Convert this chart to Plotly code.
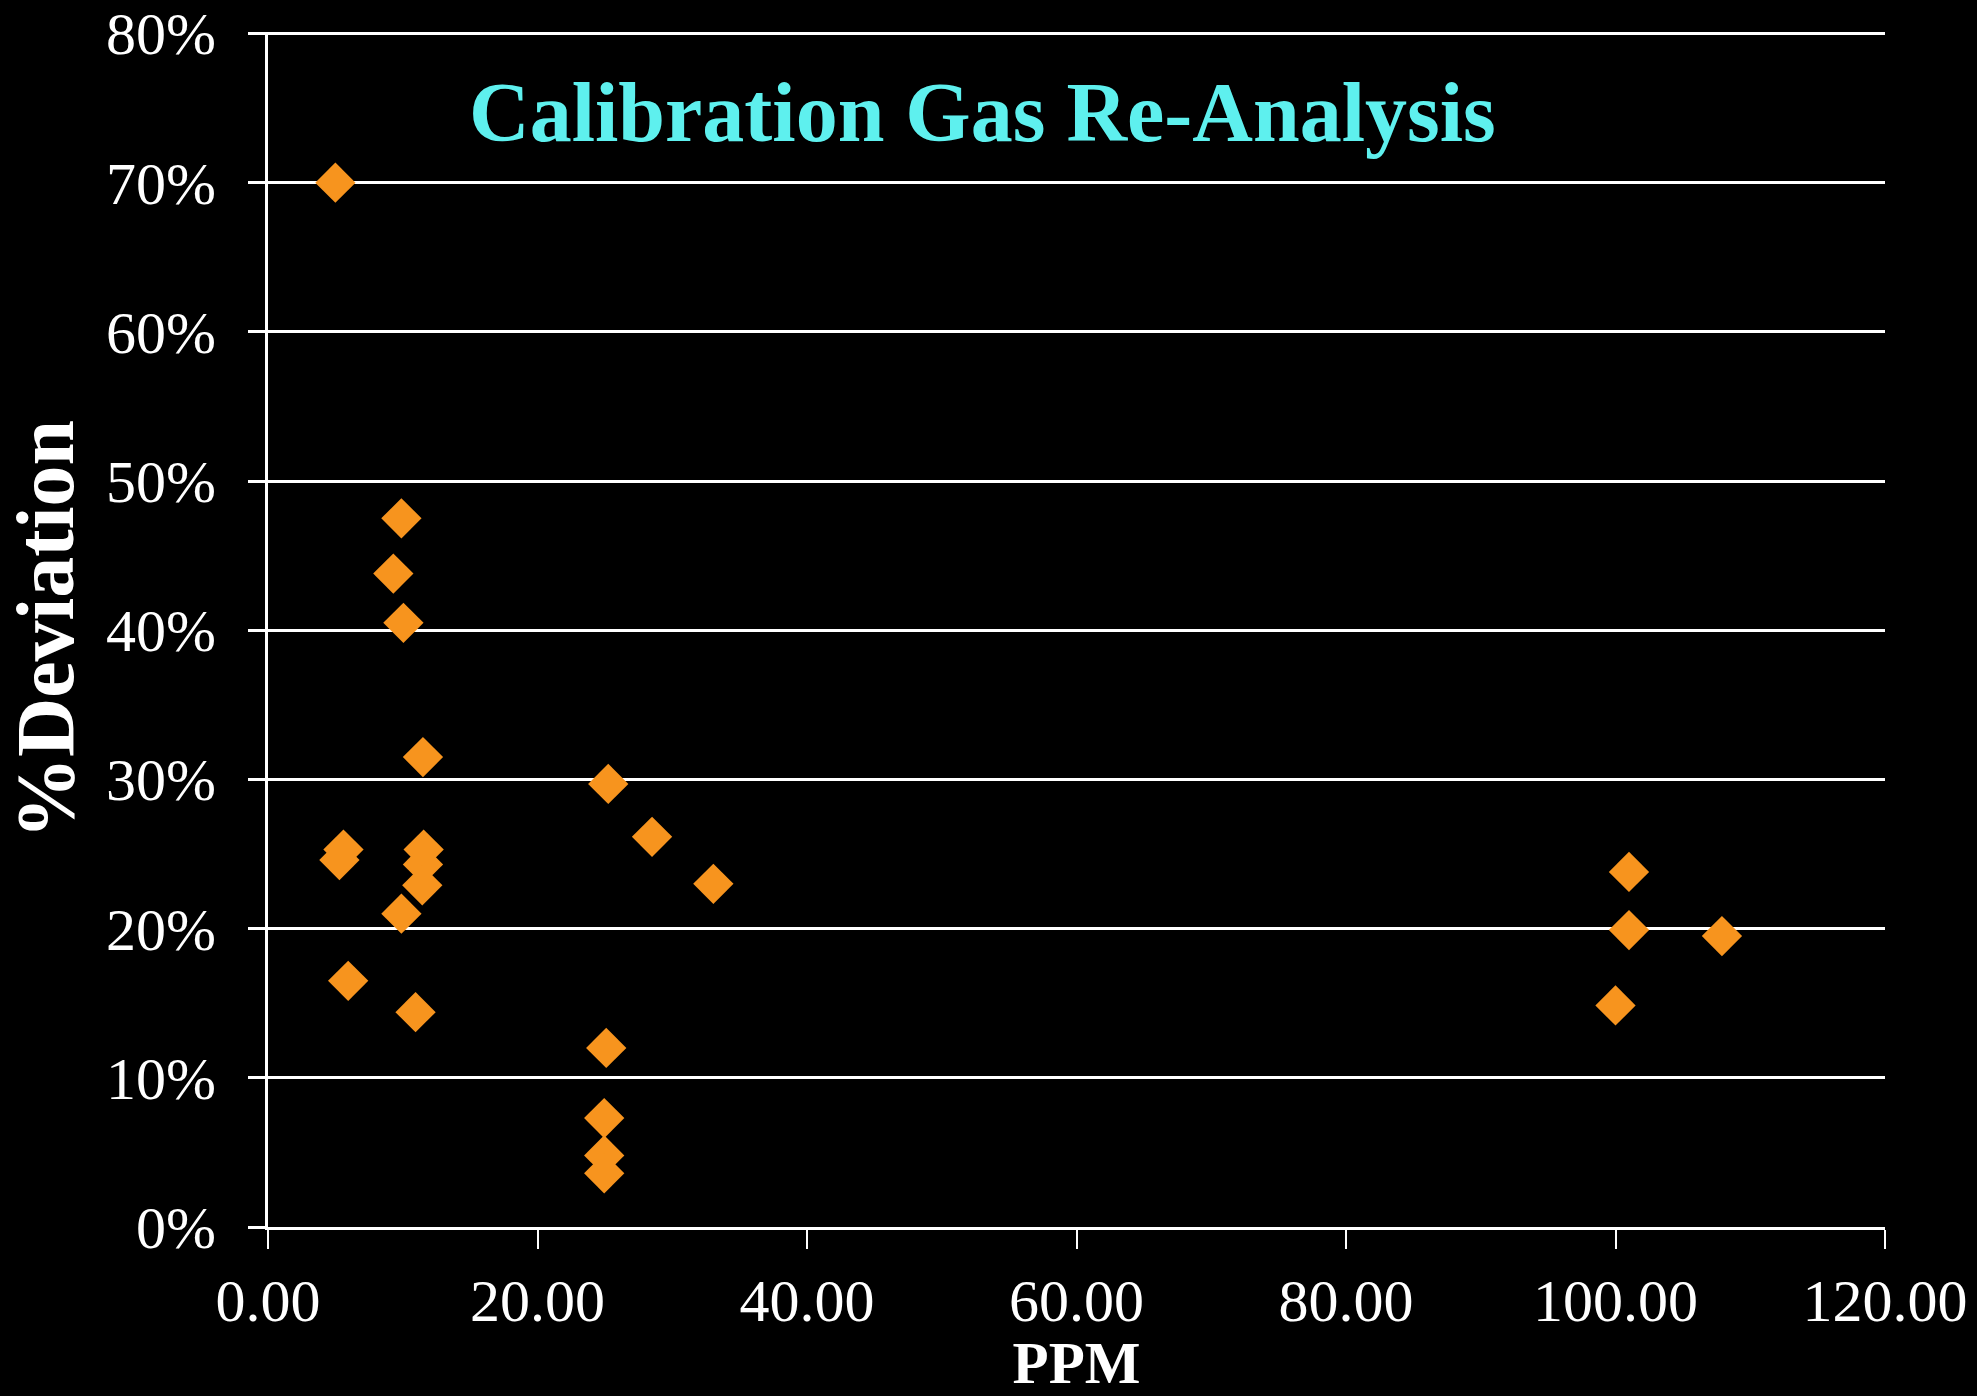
import plotly.graph_objects as go

ppm = [5.0, 9.9, 9.3, 10.05, 11.5, 5.6, 5.3, 11.55, 11.5, 11.45, 9.9, 5.95, 10.95,
       25.25, 28.5, 33.05, 25.1, 24.95, 24.95, 24.95, 101.0, 101.0, 107.9, 100.0]
deviation_pct = [70.0, 47.5, 43.8, 40.5, 31.5, 25.3, 24.6, 25.3, 24.3, 22.9, 21.0, 16.5, 14.4,
                 29.7, 26.15, 23.0, 12.0, 7.3, 4.8, 3.6, 23.8, 19.9, 19.5, 14.85]
deviation = [v / 100 for v in deviation_pct]

x_ticks = [0, 20, 40, 60, 80, 100, 120]
y_ticks = [0, 0.1, 0.2, 0.3, 0.4, 0.5, 0.6, 0.7, 0.8]

title_text = "Calibration Gas Re-Analysis"
x_title = "PPM"
y_title = "%Deviation"

FONT = "Liberation Serif, Times New Roman, serif"

fig = go.Figure()
fig.add_trace(go.Scatter(
    x=ppm, y=deviation, mode="markers",
    marker=dict(symbol="diamond", size=31, color="#F7941E", line=dict(width=0)),
    showlegend=False,
))

fig.update_layout(
    width=1977, height=1396,
    paper_bgcolor="black", plot_bgcolor="black",
    margin=dict(l=268, r=92, t=32, b=169, autoexpand=False),
    font=dict(family=FONT, color="white", size=60),
    annotations=[dict(
        text="<b>" + title_text + "</b>", xref="paper", yref="paper",
        x=0.4416, y=0.933, xanchor="center", yanchor="middle", showarrow=False,
        font=dict(family=FONT, size=84, color="#5EF0EE"),
    )],
)

fig.update_xaxes(
    range=[0, 120], tickvals=x_ticks, tickformat=".2f",
    showgrid=False, zeroline=False,
    showline=True, linecolor="white", linewidth=3,
    ticks="outside", ticklen=19, tickwidth=2, tickcolor="white",
    tickfont=dict(family=FONT, size=60, color="white"),
    ticklabelstandoff=0,
    title=dict(text="<b>" + x_title + "</b>", standoff=8,
               font=dict(family=FONT, size=59, color="white")),
)
fig.update_yaxes(
    range=[0, 0.801], tickvals=y_ticks, tickformat=".0%",
    showgrid=True, gridcolor="white", gridwidth=3, zeroline=False,
    showline=True, linecolor="white", linewidth=3,
    ticks="outside", ticklen=17, tickwidth=3, tickcolor="white",
    tickfont=dict(family=FONT, size=60, color="white"),
    ticklabelstandoff=20,
    title=dict(text="<b>" + y_title + "</b>", standoff=10,
               font=dict(family=FONT, size=82, color="white")),
)

fig.write_html(
    "out.html",
    config={"displayModeBar": False},
    post_script="document.body.style.margin='0';document.body.style.background='black';",
)
